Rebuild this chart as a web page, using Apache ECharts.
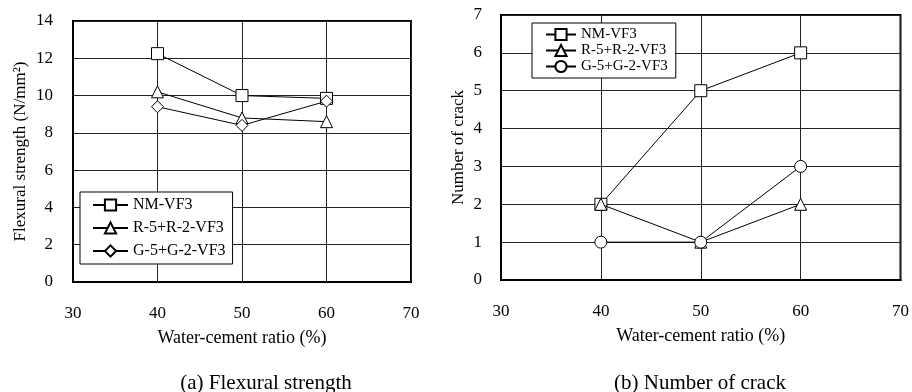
<!DOCTYPE html>
<html><head><meta charset="utf-8">
<script src="https://cdn.jsdelivr.net/npm/echarts@6/dist/echarts.min.js"></script>
<style>html,body{margin:0;padding:0;background:#fff}#c{width:912px;height:392px}</style>
</head><body><div id="c"></div>
<script>
const xValues = [40, 50, 60];
const seriesNames = ['NM-VF3', 'R-5+R-2-VF3', 'G-5+G-2-VF3'];
// (a) Flexural strength (N/mm2)
const flexNM = [12.25, 10.0, 9.85];
const flexR = [10.2, 8.8, 8.6];
const flexG = [9.4, 8.4, 9.7];
// (b) Number of crack
const crackNM = [2, 5, 6];
const crackR = [2, 1, 2];
const crackG = [1, 1, 3];
const captionA = '(a) Flexural strength';
const captionB = '(b) Number of crack';

const F = 'Liberation Serif';
const pairs = v => xValues.map((x, i) => [x, v[i]]);
function mk(name, data, sym, idx, z) {
  return {
    type: 'line', name: name, data: pairs(data), xAxisIndex: idx, yAxisIndex: idx,
    symbol: sym, symbolSize: 12, z: z,
    lineStyle: { color: '#000', width: 1 },
    itemStyle: { color: '#fff', borderColor: '#000', borderWidth: 1 },
    emphasis: { disabled: true }, animation: false
  };
}
const axisCommon = {
  axisLine: { show: true, onZero: false, lineStyle: { color: '#000', width: 2 } },
  axisTick: { show: false },
  splitLine: { show: true, lineStyle: { color: '#222', width: 1 } },
  axisLabel: { color: '#000', fontFamily: F, fontSize: 17 },
  nameTextStyle: { color: '#000', fontFamily: F, fontSize: 18 }
};
const chart = echarts.init(document.getElementById('c'));
chart.setOption({
  backgroundColor: '#fff',
  animation: false,
  grid: [
    { left: 73, top: 21, width: 338, height: 261, show: true, borderColor: '#000', borderWidth: 2 },
    { left: 501, top: 15, width: 401, height: 265, show: true, borderColor: '#000', borderWidth: 2 }
  ],
  xAxis: [0, 1].map(i => Object.assign({}, axisCommon, {
    type: 'value', gridIndex: i, min: 30, max: 70, interval: 10,
    name: 'Water-cement ratio (%)', nameLocation: 'middle', nameGap: 47,
    axisLabel: Object.assign({}, axisCommon.axisLabel, { margin: 23 })
  })),
  yAxis: [
    Object.assign({}, axisCommon, {
      type: 'value', gridIndex: 0, min: 0, max: 14, interval: 2,
      name: 'Flexural strength (N/mm²)', nameLocation: 'middle', nameGap: 44,
      nameTextStyle: { color: '#000', fontFamily: F, fontSize: 17 },
      axisLabel: Object.assign({}, axisCommon.axisLabel, { margin: 20 })
    }),
    Object.assign({}, axisCommon, {
      type: 'value', gridIndex: 1, min: 0, max: 7, interval: 1,
      name: 'Number of crack', nameLocation: 'middle', nameGap: 34,
      nameTextStyle: { color: '#000', fontFamily: F, fontSize: 17 },
      axisLabel: Object.assign({}, axisCommon.axisLabel, { margin: 19 })
    })
  ],
  legend: [
    {
      data: seriesNames, orient: 'vertical', left: 80, top: 192,
      padding: [5, 7, 5, 12], itemWidth: 35, itemHeight: 14, itemGap: 7,
      backgroundColor: '#fff', borderColor: '#000', borderWidth: 1,
      textStyle: { fontFamily: F, fontSize: 16, color: '#000' },
      selectedMode: false
    },
    {
      data: seriesNames.map(n => n + ' '), orient: 'vertical', left: 532, top: 23,
      padding: [4, 8, 4, 13], itemWidth: 30, itemHeight: 14, itemGap: 1,
      backgroundColor: '#fff', borderColor: '#000', borderWidth: 1,
      textStyle: { fontFamily: F, fontSize: 15, color: '#000' },
      formatter: n => n.trim(),
      selectedMode: false
    }
  ],
  series: [
    mk(seriesNames[0], flexNM, 'rect', 0, 3),
    mk(seriesNames[1], flexR, 'triangle', 0, 4),
    mk(seriesNames[2], flexG, 'diamond', 0, 5),
    mk(seriesNames[0] + ' ', crackNM, 'rect', 1, 3),
    mk(seriesNames[1] + ' ', crackR, 'triangle', 1, 4),
    mk(seriesNames[2] + ' ', crackG, 'circle', 1, 5)
  ],
  graphic: [
    { type: 'text', x: 266, y: 383, style: { text: captionA, font: '21px "Liberation Serif"', fill: '#000', align: 'center', verticalAlign: 'middle' } },
    { type: 'text', x: 700, y: 383, style: { text: captionB, font: '21px "Liberation Serif"', fill: '#000', align: 'center', verticalAlign: 'middle' } }
  ]
});
</script></body></html>
